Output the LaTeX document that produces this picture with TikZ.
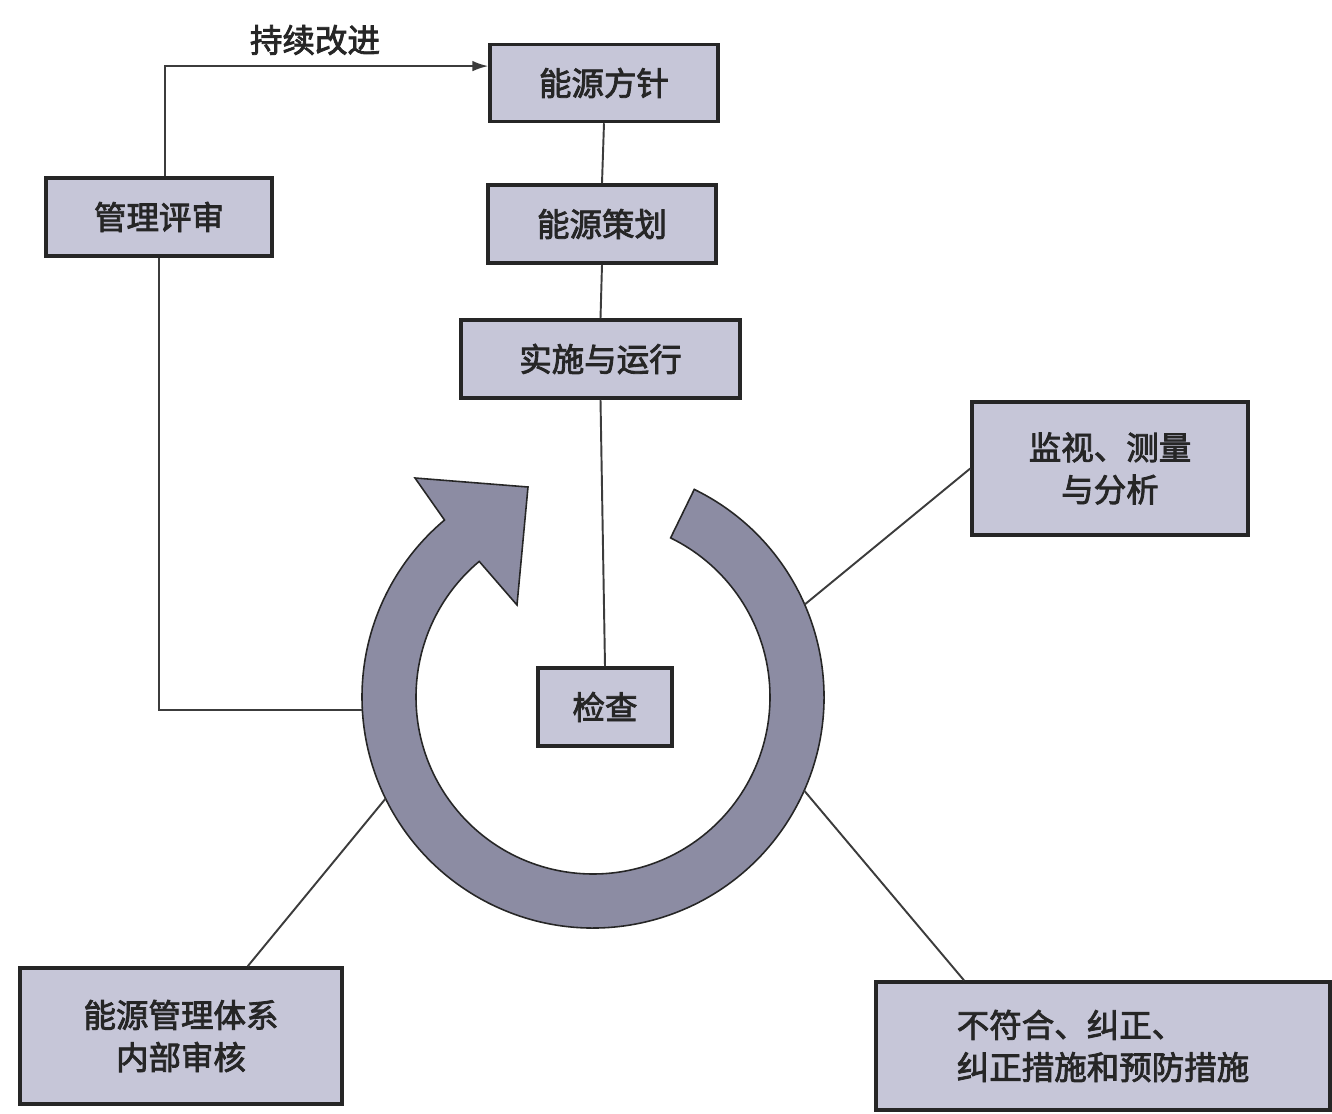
\documentclass[tikz,border=0pt]{standalone}
\usepackage{fontspec}
\newfontfamily\cjk[FakeBold=2.5]{Noto Sans CJK SC}
\usetikzlibrary{calc,arrows.meta}
\definecolor{boxfill}{HTML}{C6C6D8}
\definecolor{ringfill}{HTML}{8C8CA3}
\definecolor{ink}{HTML}{262626}
\begin{document}
\begin{tikzpicture}[x=0.02cm, y=-0.02cm,
  box/.style={draw=ink, line width=2pt, fill=boxfill, inner sep=0pt,
    font=\cjk\fontsize{18.5}{24}\selectfont, text=ink, align=center},
  conn/.style={draw=ink!90, line width=1.1pt},
  ring/.style={draw=ink, line width=0.9pt, fill=ringfill}]
\useasboundingbox (0,0) rectangle (1332,1114);

% boxes
\node[box, minimum width=4.56cm, minimum height=1.54cm] (fangzhen) at (604,83) {能源方针};
\node[box, minimum width=4.56cm, minimum height=1.56cm] (cehua) at (602,224) {能源策划};
\node[box, minimum width=5.58cm, minimum height=1.56cm] (shishi) at (600.5,359) {实施与运行};
\node[box, minimum width=4.52cm, minimum height=1.56cm] (pingshen) at (159,217) {管理评审};
\node[box, minimum width=5.52cm, minimum height=2.66cm] (jianshi) at (1110,468.5) {监视、测量\\与分析};
\node[box, minimum width=2.68cm, minimum height=1.56cm] (jiancha) at (605,707) {检查};
\node[box, minimum width=6.44cm, minimum height=2.72cm] (neishen) at (181,1036) {能源管理体系\\内部审核};
\node[box, minimum width=9.08cm, minimum height=2.56cm, align=left] (buhege) at (1103,1046) {不符合、纠正、\\纠正措施和预防措施};

% label
\node[font=\cjk\fontsize{18.5}{24}\selectfont, text=ink] (jixu) at (315,40) {持续改进};

% ring arrow
\coordinate (rc) at (593,697);
\filldraw[ring] ($(rc)+(-64:231)$) arc[start angle=-64, end angle=230, radius=231]
  -- (415,478) -- (528,487) -- (517,605)
  -- ($(rc)+(230:177)$) arc[start angle=230, end angle=-64, radius=177] -- cycle;

\coordinate (ringL) at (362,710);
\coordinate (ringR) at ($(rc)+(-23.6:231)$);
\coordinate (ringLL) at ($(rc)+(153.9:231)$);
\coordinate (ringLR) at ($(rc)+(23.9:231)$);

% connectors
\draw[conn] (fangzhen.south) -- (cehua.north);
\draw[conn] (cehua.south) -- (shishi.north);
\draw[conn] (shishi.south) -- (jiancha.north);
\coordinate (fzin) at ($(fangzhen.north west)!0.29!(fangzhen.south west)$);
\coordinate (pstop) at ($(pingshen.north)+(6,0)$);
\draw[conn, -{Latex[length=9pt,width=6pt]}] (pstop) |- (fzin);
\draw[conn] (pingshen.south) |- (ringL);
\draw[conn] (ringR) -- (jianshi.west);
\draw[conn] (ringLL) -- ($(neishen.north west)!0.705!(neishen.north east)$);
\draw[conn] (ringLR) -- ($(buhege.north west)!0.196!(buhege.north east)$);
\end{tikzpicture}
\end{document}
